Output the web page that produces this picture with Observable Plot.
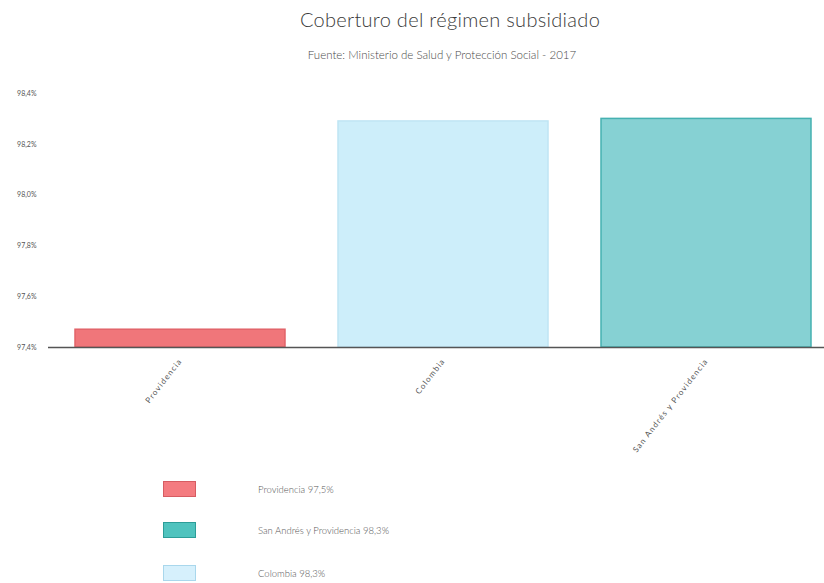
<!DOCTYPE html>
<html>
<head>
<meta charset="utf-8">
<script src="https://cdn.jsdelivr.net/npm/d3@7"></script>
<script src="https://cdn.jsdelivr.net/npm/@observablehq/plot@0.6"></script>
<style>
  html, body { margin: 0; padding: 0; background: #fff; }
  body { width: 824px; height: 583px; position: relative; overflow: hidden; font-family: Lato, "Open Sans", sans-serif; font-weight: 300; }
  #title { position: absolute; left: 0; width: 900px; top: 7px; text-align: center; font-size: 20px; color: #3a3a3a; letter-spacing: 0.3px; }
  #subtitle { position: absolute; left: 0; width: 884px; top: 48px; text-align: center; font-size: 11.5px; color: #4a4a4a; }
  #chart { position: absolute; left: 0; top: 75px; }
  #chart svg { font-family: Lato, "Open Sans", sans-serif; font-weight: 400; }
  #chart g[aria-label="x-axis tick label"] text { letter-spacing: 1.2px; }
  .leg { position: absolute; left: 163px; height: 16px; display: flex; align-items: center; }
  .sw { width: 31px; height: 14px; border: 1px solid; }
  .lt { position: absolute; left: 95px; white-space: nowrap; font-size: 9.5px; color: #555; }
</style>
</head>
<body>
<div id="title">Coberturo del régimen subsidiado</div>
<div id="subtitle">Fuente: Ministerio de Salud y Protección Social - 2017</div>
<div id="chart"></div>
<div id="legend"></div>
<script>
const categories = ["Providencia", "Colombia", "San Andrés y Providencia"];
const values = [97.47, 98.29, 98.30];
const yDomain = [97.4, 98.4];
const yTicks = [97.4, 97.6, 97.8, 98.0, 98.2, 98.4];
const barFills = ["#f0767a", "#cdeefa", "#86d1d3"];
const barStrokes = ["#e2646a", "#bfe5f4", "#45b1b1"];
const legendOrder = ["Providencia", "San Andrés y Providencia", "Colombia"];
const legendLabels = ["Providencia 97,5%", "San Andrés y Providencia 98,3%", "Colombia 98,3%"];
const legendFills = ["#f47b80", "#4fc3be", "#d6f0fc"];
const legendStrokes = ["#d65c62", "#2c9d98", "#a9d7ec"];

const data = categories.map((c, i) => ({cat: c, value: values[i]}));
const fmt = d => d.toFixed(1).replace(".", ",") + "%";

const chart = Plot.plot({
  width: 824,
  height: 400,
  marginTop: 18,
  marginBottom: 128,
  marginLeft: 48,
  marginRight: 0,
  x: {domain: categories, range: [48, 838], paddingInner: 0.2, paddingOuter: 0.1},
  y: {domain: yDomain},
  color: {domain: categories, range: barFills},
  marks: [
    Plot.barY(data, {
      x: "cat", y1: yDomain[0], y2: "value", fill: "cat",
      stroke: d => barStrokes[categories.indexOf(d.cat)], strokeWidth: 1.5
    }),
    Plot.ruleY([yDomain[0]], {stroke: "#555", strokeWidth: 1.5}),
    Plot.axisY({ticks: yTicks, tickFormat: fmt, tickSize: 0, tickPadding: 12, fontSize: 7, fill: "#555", label: null}),
    Plot.axisX({tickRotate: -52, tickSize: 0, tickPadding: 12, fontSize: 8, fill: "#555", label: null})
  ]
});
document.getElementById("chart").appendChild(chart);

const legend = document.getElementById("legend");
const tops = [481, 522, 565];
legendOrder.forEach((c, i) => {
  const item = document.createElement("div");
  item.className = "leg";
  item.style.top = tops[i] + "px";
  const sw = document.createElement("div");
  sw.className = "sw";
  sw.style.background = legendFills[i];
  sw.style.borderColor = legendStrokes[i];
  const t = document.createElement("div");
  t.className = "lt";
  t.textContent = legendLabels[i];
  item.appendChild(sw);
  item.appendChild(t);
  legend.appendChild(item);
});
</script>
</body>
</html>
